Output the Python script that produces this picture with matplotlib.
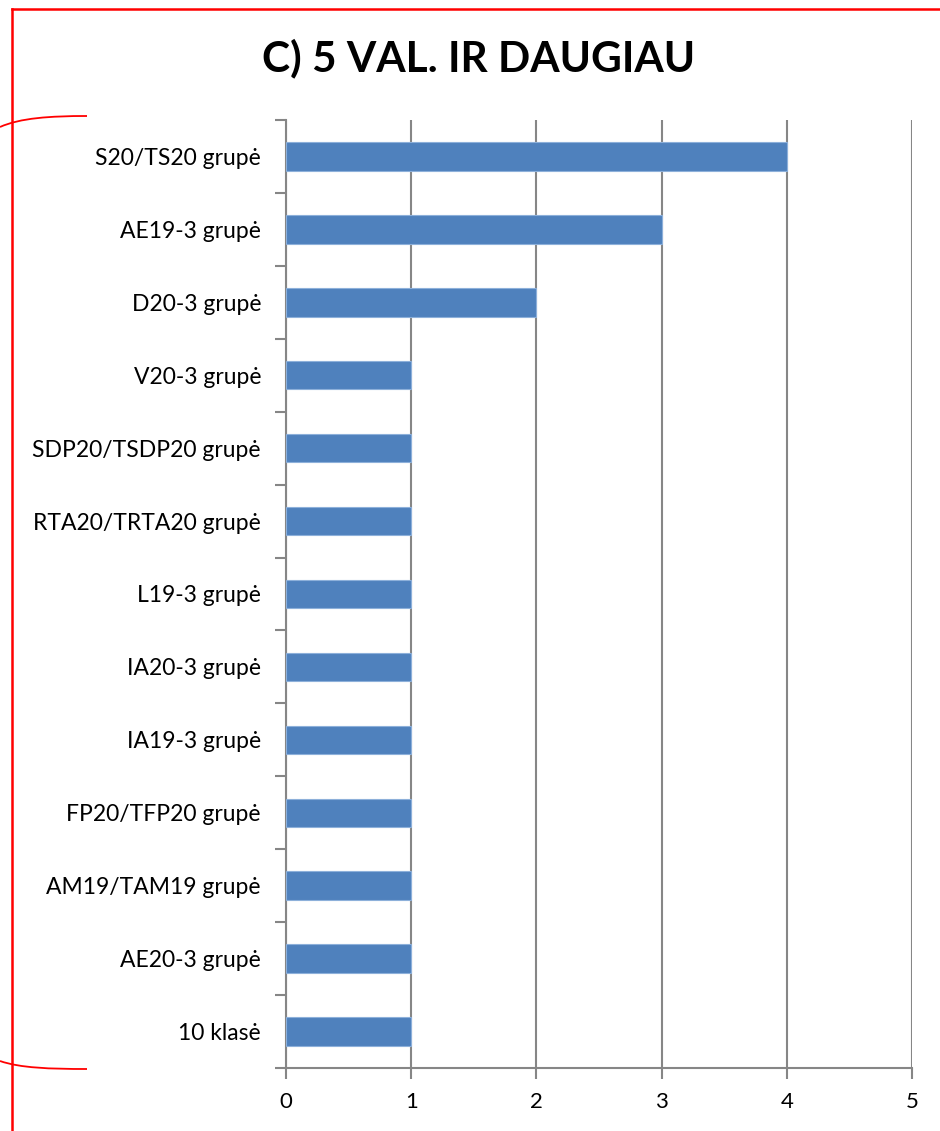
import numpy as np
import matplotlib
matplotlib.use('Agg')
import matplotlib.pyplot as plt
from matplotlib.path import Path
from matplotlib.patches import PathPatch
from matplotlib.lines import Line2D

plt.rcParams['font.family'] = ['Lato', 'DejaVu Sans']

groups = ['S20/TS20 grupė', 'AE19-3 grupė', 'D20-3 grupė', 'V20-3 grupė',
          'SDP20/TSDP20 grupė', 'RTA20/TRTA20 grupė', 'L19-3 grupė',
          'IA20-3 grupė', 'IA19-3 grupė', 'FP20/TFP20 grupė',
          'AM19/TAM19 grupė', 'AE20-3 grupė', '10 klasė']
counts = [4, 3, 2, 1, 1, 1, 1, 1, 1, 1, 1, 1, 1]
x_ticks = [0, 1, 2, 3, 4, 5]

W, H = 940, 1131
fig = plt.figure(figsize=(W / 100, H / 100), dpi=100)
ax = fig.add_axes([286 / W, 1 - 1068 / H, (912 - 286) / W, (1068 - 120) / H])

grid_col = '#868686'
pos = np.arange(len(groups))
ax.barh(pos, counts, height=0.39, color='#4F81BD', edgecolor='#8DB0DA',
        linewidth=0.8, zorder=3)
ax.set_ylim(len(groups) - 0.5, -0.5)
ax.set_xlim(0, 5)

# labels in the middle of each category, tick marks on the boundaries
ax.set_yticks(pos, minor=True)
ax.set_yticklabels(groups, minor=True)
ax.set_yticks(np.arange(len(groups) + 1) - 0.5)
ax.set_yticklabels([])
ax.tick_params(axis='y', which='minor', length=0, pad=18, labelsize=16.5)
ax.tick_params(axis='y', which='major', length=8, width=1.5, color=grid_col)

ax.set_xticks(x_ticks)
ax.set_xticklabels([str(t) for t in x_ticks])
ax.tick_params(axis='x', length=8, width=1.5, color=grid_col, pad=9, labelsize=16)

ax.grid(axis='x', color=grid_col, linewidth=1.5, zorder=0)
for s in ['top', 'right']:
    ax.spines[s].set_visible(False)
for s in ['left', 'bottom']:
    ax.spines[s].set_color(grid_col)
    ax.spines[s].set_linewidth(1.5)

fig.text(479 / W, 1 - 58 / H, 'C) 5 VAL. IR DAUGIAU', ha='center', va='center',
         fontsize=30.5, fontweight='bold')

# red frame (top and left edges) and bracket marks
fig.add_artist(Line2D([12 / W, 1], [1 - 9 / H, 1 - 9 / H], color='#FF0000', lw=1.8))
fig.add_artist(Line2D([12 / W, 12 / W], [0, 1 - 9 / H], color='#FF0000', lw=1.8))

def fx(x):
    return x / W

def fy(y):
    return 1 - y / H

top = Path([(fx(0), fy(127)), (fx(20), fy(118)), (fx(50), fy(116)), (fx(87), fy(116))],
           [Path.MOVETO, Path.CURVE4, Path.CURVE4, Path.CURVE4])
bot = Path([(fx(0), fy(1061)), (fx(20), fy(1068)), (fx(50), fy(1069)), (fx(87), fy(1069))],
           [Path.MOVETO, Path.CURVE4, Path.CURVE4, Path.CURVE4])
for p in (top, bot):
    fig.add_artist(PathPatch(p, fill=False, edgecolor='#FF0000', lw=1.3,
                             transform=fig.transFigure))

fig.savefig('out.png', dpi=100)
